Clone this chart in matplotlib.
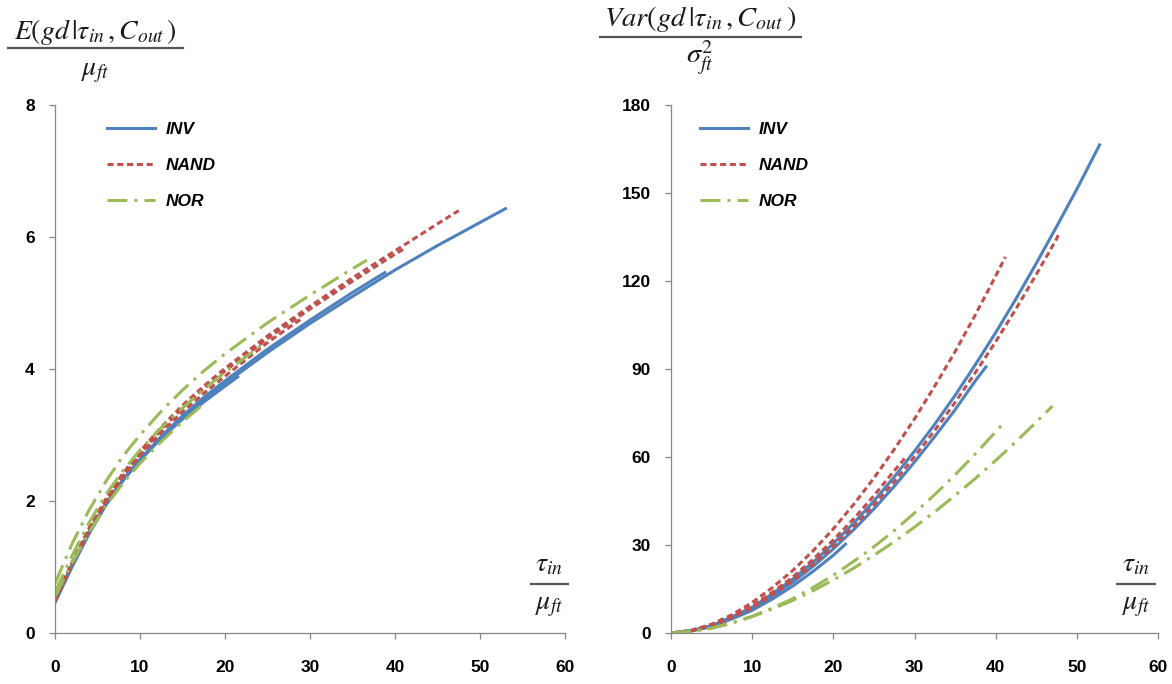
import matplotlib
matplotlib.use("Agg")
import matplotlib.pyplot as plt
from matplotlib.lines import Line2D

plt.rcParams['font.family'] = ['Liberation Sans', 'DejaVu Sans']
plt.rcParams['mathtext.fontset'] = 'stix'

# ---- left panel: E(gd | tau_in, C_out) / mu_ft ----
e_inv_x = [[0, 2, 4, 6, 8, 10, 12.5, 15, 17.5, 20, 25, 30, 35, 40, 45, 50, 53],
           [0, 2, 4, 6, 8, 10, 12.5, 15, 17.5, 20, 25, 30, 35, 38.8],
           [0, 2, 4, 6, 8, 10, 12.5, 15, 17.5, 20, 21.5]]
e_inv_y = [[0.47, 1.02, 1.52, 1.95, 2.31, 2.62, 2.96, 3.26, 3.53, 3.78, 4.25, 4.69, 5.1, 5.5, 5.87, 6.22, 6.43],
           [0.46, 1.0, 1.5, 1.94, 2.31, 2.63, 2.98, 3.29, 3.57, 3.82, 4.3, 4.74, 5.16, 5.46],
           [0.48, 1.03, 1.53, 1.96, 2.32, 2.62, 2.95, 3.24, 3.5, 3.74, 3.88]]
e_nand_x = [[0, 2, 4, 6, 8, 10, 12.5, 15, 17.5, 20, 25, 30, 35, 40, 45, 47.5],
            [0, 2, 4, 6, 8, 10, 12.5, 15, 17.5, 20, 25, 30, 35, 40, 41.2],
            [0, 2, 4, 6, 8, 10, 12.5, 15, 17.5, 20, 25, 29.2]]
e_nand_y = [[0.5, 1.07, 1.59, 2.04, 2.42, 2.75, 3.12, 3.45, 3.74, 4.01, 4.5, 4.95, 5.38, 5.79, 6.2, 6.4],
            [0.49, 1.04, 1.55, 2.0, 2.38, 2.71, 3.08, 3.41, 3.7, 3.97, 4.46, 4.91, 5.33, 5.74, 5.83],
            [0.52, 1.06, 1.56, 2.0, 2.37, 2.69, 3.04, 3.35, 3.63, 3.89, 4.4, 4.78]]
e_nor_x = [[0, 2, 4, 6, 8, 10, 12.5, 15, 17.5, 20, 25, 30, 35, 36.7],
           [0, 2, 4, 6, 8, 10, 12.5, 15, 17.5, 20, 24.5],
           [0, 2, 4, 6, 8, 10, 12.5, 15, 17.4]]
e_nor_y = [[0.75, 1.35, 1.86, 2.3, 2.68, 3.0, 3.36, 3.68, 3.97, 4.23, 4.7, 5.12, 5.52, 5.65],
           [0.62, 1.17, 1.67, 2.1, 2.46, 2.77, 3.11, 3.41, 3.69, 3.95, 4.38],
           [0.55, 1.06, 1.52, 1.93, 2.27, 2.57, 2.9, 3.2, 3.46]]

# ---- right panel: Var(gd | tau_in, C_out) / sigma_ft^2 ----
grid = [0, 2.5, 5, 7.5, 10, 12.5, 15, 17.5, 20, 22.5, 25, 27.5, 30,
        32.5, 35, 37.5, 40, 42.5, 45, 47.5, 50]
v_inv_x = [grid + [52.8], grid[:16] + [38.8], grid[:9] + [21.5]]
v_inv_y = [[0, 0.8, 2.5, 5.5, 8.8, 13.4, 18.4, 24.1, 30.5, 37.4, 45, 53.2, 62, 71.2, 81, 91.5, 102.4, 113.9, 126, 138.5, 151.3, 166.4],
           [0, 0.75, 2.35, 5.2, 8.3, 12.6, 17.3, 22.7, 28.7, 35.2, 42.3, 50, 58.3, 67, 76.1, 86, 90.7],
           [0, 0.7, 2.2, 4.8, 7.7, 11.6, 16, 21, 26.5, 30.3]]
v_nand_x = [grid[:17] + [41.2], grid[:20] + [47.7], grid[:12] + [28.8]]
v_nand_y = [[0, 0.9, 3.0, 6.2, 10.4, 15.5, 21.3, 28, 35.5, 43.8, 52.8, 62.6, 73, 84.2, 95.9, 108.5, 121.7, 128.2],
            [0, 0.78, 2.4, 5.3, 8.5, 13, 17.8, 23.4, 29.6, 36.3, 43.7, 51.6, 60.1, 69.1, 78.6, 88.8, 99.3, 110.5, 122.2, 134.3, 135.7],
            [0, 0.85, 2.6, 5.7, 9.2, 13.9, 19.1, 25.1, 31.7, 38.9, 46.8, 55.3, 59.5]]
v_nor_x = [grid[:17] + [41.2], grid[:19] + [47]]
v_nor_y = [[0, 0.47, 1.6, 3.4, 5.7, 8.5, 11.7, 15.5, 19.7, 24.4, 29.4, 34.9, 40.9, 47.2, 53.9, 61.1, 68.6, 72.3],
           [0, 0.53, 1.7, 3.4, 5.6, 8.2, 11.1, 14.4, 18.1, 22.1, 26.5, 31.1, 36.1, 41.3, 46.9, 52.7, 58.8, 65.2, 71.9, 77.4]]

labels = ['INV', 'NAND', 'NOR']
colors = ['#4F81BD', '#C0504D', '#9BBB59']
styles = ['-', (0, (2, 1.2)), (0, (6.5, 2.3, 1, 2.3))]

W, H = 1172, 684
fig = plt.figure(figsize=(W / 100, H / 100), dpi=100)
axL = fig.add_axes([55 / W, 1 - 633 / H, 510 / W, 528 / H])
axR = fig.add_axes([671 / W, 1 - 633 / H, 487 / W, 528 / H])

panels = [
    (axL, [(e_inv_x, e_inv_y), (e_nand_x, e_nand_y), (e_nor_x, e_nor_y)], 8, 2),
    (axR, [(v_inv_x, v_inv_y), (v_nand_x, v_nand_y), (v_nor_x, v_nor_y)], 180, 30),
]

for ax, series, ymax, ystep in panels:
    for k, (xs, ys) in enumerate(series):
        for j, (x, y) in enumerate(zip(xs, ys)):
            ax.plot(x, y, color=colors[k], linestyle=styles[k], lw=2.2,
                    label=labels[k] if j == 0 else None)
    ax.set_xlim(0, 60)
    ax.set_ylim(0, ymax)
    ax.set_xticks(range(0, 61, 10))
    ax.set_yticks(range(0, ymax + 1, ystep))
    for s in ['top', 'right']:
        ax.spines[s].set_visible(False)
    for s in ['left', 'bottom']:
        ax.spines[s].set_color('#868686')
        ax.spines[s].set_linewidth(0.9)
    ax.tick_params(axis='both', colors='#868686', labelcolor='black',
                   length=4.5, width=0.9, labelsize=12.5)
    ax.tick_params(axis='x', pad=15)
    ax.tick_params(axis='y', pad=10)
    for t in ax.get_xticklabels() + ax.get_yticklabels():
        t.set_fontweight('bold')
    ax.patch.set_alpha(0)

leg_kw = dict(loc='upper left', frameon=False, handlelength=2.75,
              handletextpad=0.65, labelspacing=1.2, borderpad=0,
              borderaxespad=0, prop={'weight': 'bold', 'style': 'italic', 'size': 12.5})
axL.legend(bbox_to_anchor=((107 - 55) / 510, (633 - 122) / 528), **leg_kw)
axR.legend(bbox_to_anchor=((700 - 671) / 487, (633 - 122) / 528), **leg_kw)

def frac(xc, y_num, y_line, y_den, num, den, x0, x1, size):
    fig.text(xc / W, 1 - y_num / H, num, ha='center', va='center',
             fontsize=size, color='#1a1a1a')
    fig.add_artist(Line2D([x0 / W, x1 / W], [1 - y_line / H, 1 - y_line / H],
                          transform=fig.transFigure, color='#555555', lw=1.6))
    fig.text(xc / W, 1 - y_den / H, den, ha='center', va='center',
             fontsize=size, color='#1a1a1a')

frac(95, 32, 48, 72, r'$E(gd\,|\tau_{in}\,,C_{out}\,)$', r'$\mu_{ft}$', 8, 183, 20)
frac(700, 19, 37, 57, r'$Var(gd\,|\tau_{in}\,,C_{out}\,)$', r'$\sigma_{ft}^{2}$', 600, 801, 20.5)
frac(549, 564, 584, 606, r'$\tau_{in}$', r'$\mu_{ft}$', 531, 568, 20)
frac(1136, 564, 584, 606, r'$\tau_{in}$', r'$\mu_{ft}$', 1117, 1155, 20)

fig.savefig('out.png', dpi=100)
